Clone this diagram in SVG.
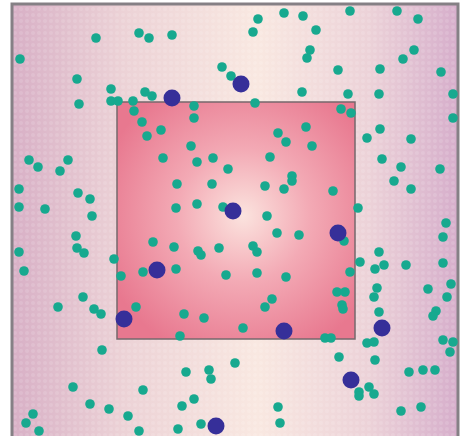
<svg xmlns="http://www.w3.org/2000/svg" width="461" height="436" viewBox="0 0 461 436">
<defs>
<linearGradient id="bg" x1="0" y1="0" x2="1" y2="0">
<stop offset="0" stop-color="#d8b0c6"/>
<stop offset="0.25" stop-color="#ecd2d6"/>
<stop offset="0.55" stop-color="#f9e8e1"/>
<stop offset="0.8" stop-color="#ecd2d8"/>
<stop offset="1" stop-color="#d6aecb"/>
</linearGradient>
<radialGradient id="sq" cx="0.53" cy="0.48" r="0.62">
<stop offset="0" stop-color="#fbe3de"/>
<stop offset="0.45" stop-color="#f3aab5"/>
<stop offset="1" stop-color="#e8788f"/>
</radialGradient>
<pattern id="grid" width="6" height="6" patternUnits="userSpaceOnUse">
<circle cx="3" cy="3" r="2" fill="#ffffff" opacity="0.12"/>
</pattern>
</defs>
<style>
.t{fill:#17a98f}
.b{fill:#362f99}
</style>
<g id="background">
<rect x="12" y="4" width="446" height="440" fill="url(#bg)"/>
<rect x="12" y="4" width="446" height="440" fill="url(#grid)"/>
<rect x="12" y="4" width="446" height="440" fill="none" stroke="#858085" stroke-width="3"/>
</g>
<g id="square">
<rect x="117" y="102" width="238" height="237" fill="url(#sq)" stroke="#76686c" stroke-width="1.5"/>
</g>
<g id="teal-dots" class="t">
<circle cx="20" cy="59" r="4.8"/><circle cx="96" cy="38" r="4.8"/><circle cx="139" cy="33" r="4.8"/><circle cx="149" cy="38" r="4.8"/>
<circle cx="77" cy="79" r="4.8"/><circle cx="79" cy="104" r="4.8"/><circle cx="111" cy="89" r="4.8"/><circle cx="111" cy="101" r="4.8"/>
<circle cx="118" cy="101" r="4.8"/><circle cx="133" cy="101" r="4.8"/><circle cx="145" cy="92" r="4.8"/><circle cx="152" cy="96" r="4.8"/>
<circle cx="134" cy="111" r="4.8"/><circle cx="142" cy="122" r="4.8"/><circle cx="147" cy="136" r="4.8"/>
<circle cx="172" cy="35" r="4.8"/><circle cx="258" cy="19" r="4.8"/><circle cx="253" cy="32" r="4.8"/><circle cx="284" cy="13" r="4.8"/>
<circle cx="303" cy="16" r="4.8"/><circle cx="310" cy="50" r="4.8"/><circle cx="307" cy="58" r="4.8"/><circle cx="222" cy="67" r="4.8"/>
<circle cx="231" cy="76" r="4.8"/><circle cx="302" cy="92" r="4.8"/><circle cx="255" cy="103" r="4.8"/><circle cx="194" cy="106" r="4.8"/>
<circle cx="194" cy="118" r="4.8"/><circle cx="161" cy="130" r="4.8"/><circle cx="191" cy="146" r="4.8"/><circle cx="278" cy="133" r="4.8"/>
<circle cx="286" cy="142" r="4.8"/><circle cx="306" cy="127" r="4.8"/>
<circle cx="350" cy="11" r="4.8"/><circle cx="397" cy="11" r="4.8"/><circle cx="418" cy="19" r="4.8"/><circle cx="316" cy="30" r="4.8"/>
<circle cx="414" cy="50" r="4.8"/><circle cx="403" cy="59" r="4.8"/><circle cx="338" cy="70" r="4.8"/><circle cx="380" cy="69" r="4.8"/>
<circle cx="441" cy="72" r="4.8"/><circle cx="348" cy="94" r="4.8"/><circle cx="379" cy="94" r="4.8"/><circle cx="453" cy="94" r="4.8"/>
<circle cx="341" cy="109" r="4.8"/><circle cx="351" cy="113" r="4.8"/><circle cx="453" cy="118" r="4.8"/><circle cx="380" cy="129" r="4.8"/>
<circle cx="367" cy="138" r="4.8"/><circle cx="411" cy="139" r="4.8"/><circle cx="312" cy="146" r="4.8"/>
<circle cx="29" cy="160" r="4.8"/><circle cx="38" cy="167" r="4.8"/><circle cx="68" cy="160" r="4.8"/><circle cx="60" cy="171" r="4.8"/>
<circle cx="19" cy="189" r="4.8"/><circle cx="78" cy="193" r="4.8"/><circle cx="90" cy="199" r="4.8"/><circle cx="19" cy="207" r="4.8"/>
<circle cx="45" cy="209" r="4.8"/><circle cx="92" cy="216" r="4.8"/><circle cx="76" cy="236" r="4.8"/><circle cx="77" cy="248" r="4.8"/>
<circle cx="84" cy="253" r="4.8"/><circle cx="19" cy="252" r="4.8"/><circle cx="24" cy="271" r="4.8"/><circle cx="114" cy="259" r="4.8"/>
<circle cx="153" cy="242" r="4.8"/><circle cx="121" cy="276" r="4.8"/><circle cx="143" cy="272" r="4.8"/>
<circle cx="163" cy="158" r="4.8"/><circle cx="197" cy="162" r="4.8"/><circle cx="213" cy="158" r="4.8"/><circle cx="228" cy="169" r="4.8"/>
<circle cx="270" cy="157" r="4.8"/><circle cx="177" cy="184" r="4.8"/><circle cx="212" cy="184" r="4.8"/><circle cx="265" cy="186" r="4.8"/>
<circle cx="284" cy="189" r="4.8"/><circle cx="292" cy="176" r="4.8"/><circle cx="292" cy="181" r="4.8"/><circle cx="176" cy="208" r="4.8"/>
<circle cx="197" cy="204" r="4.8"/><circle cx="223" cy="207" r="4.8"/><circle cx="267" cy="216" r="4.8"/><circle cx="277" cy="233" r="4.8"/>
<circle cx="299" cy="235" r="4.8"/><circle cx="174" cy="247" r="4.8"/><circle cx="198" cy="251" r="4.8"/><circle cx="201" cy="255" r="4.8"/>
<circle cx="219" cy="248" r="4.8"/><circle cx="253" cy="246" r="4.8"/><circle cx="257" cy="252" r="4.8"/><circle cx="176" cy="269" r="4.8"/>
<circle cx="226" cy="275" r="4.8"/><circle cx="257" cy="273" r="4.8"/><circle cx="286" cy="277" r="4.8"/>
<circle cx="382" cy="159" r="4.8"/><circle cx="401" cy="167" r="4.8"/><circle cx="440" cy="169" r="4.8"/><circle cx="394" cy="181" r="4.8"/>
<circle cx="411" cy="189" r="4.8"/><circle cx="333" cy="191" r="4.8"/><circle cx="358" cy="208" r="4.8"/><circle cx="344" cy="241" r="4.8"/>
<circle cx="446" cy="223" r="4.8"/><circle cx="443" cy="237" r="4.8"/><circle cx="379" cy="252" r="4.8"/><circle cx="360" cy="262" r="4.8"/>
<circle cx="384" cy="265" r="4.8"/><circle cx="375" cy="269" r="4.8"/><circle cx="406" cy="265" r="4.8"/><circle cx="443" cy="263" r="4.8"/>
<circle cx="350" cy="272" r="4.8"/><circle cx="337" cy="292" r="4.8"/><circle cx="345" cy="292" r="4.8"/><circle cx="377" cy="288" r="4.8"/>
<circle cx="374" cy="297" r="4.8"/><circle cx="428" cy="289" r="4.8"/><circle cx="451" cy="284" r="4.8"/>
<circle cx="83" cy="297" r="4.8"/><circle cx="58" cy="307" r="4.8"/><circle cx="94" cy="309" r="4.8"/><circle cx="101" cy="314" r="4.8"/>
<circle cx="136" cy="307" r="4.8"/><circle cx="102" cy="350" r="4.8"/><circle cx="73" cy="387" r="4.8"/><circle cx="143" cy="390" r="4.8"/>
<circle cx="90" cy="404" r="4.8"/><circle cx="109" cy="409" r="4.8"/><circle cx="128" cy="416" r="4.8"/><circle cx="33" cy="414" r="4.8"/>
<circle cx="26" cy="423" r="4.8"/><circle cx="39" cy="431" r="4.8"/><circle cx="139" cy="431" r="4.8"/>
<circle cx="184" cy="314" r="4.8"/><circle cx="204" cy="318" r="4.8"/><circle cx="180" cy="336" r="4.8"/><circle cx="243" cy="328" r="4.8"/>
<circle cx="265" cy="307" r="4.8"/><circle cx="272" cy="299" r="4.8"/><circle cx="235" cy="363" r="4.8"/><circle cx="186" cy="372" r="4.8"/>
<circle cx="209" cy="370" r="4.8"/><circle cx="211" cy="379" r="4.8"/><circle cx="194" cy="399" r="4.8"/><circle cx="182" cy="406" r="4.8"/>
<circle cx="201" cy="424" r="4.8"/><circle cx="178" cy="429" r="4.8"/><circle cx="278" cy="407" r="4.8"/><circle cx="280" cy="423" r="4.8"/>
<circle cx="447" cy="297" r="4.8"/><circle cx="342" cy="305" r="4.8"/><circle cx="343" cy="309" r="4.8"/><circle cx="379" cy="312" r="4.8"/>
<circle cx="436" cy="311" r="4.8"/><circle cx="433" cy="316" r="4.8"/><circle cx="325" cy="338" r="4.8"/><circle cx="331" cy="338" r="4.8"/>
<circle cx="367" cy="343" r="4.8"/><circle cx="374" cy="342" r="4.8"/><circle cx="443" cy="340" r="4.8"/><circle cx="453" cy="342" r="4.8"/>
<circle cx="450" cy="352" r="4.8"/><circle cx="339" cy="357" r="4.8"/><circle cx="375" cy="360" r="4.8"/><circle cx="409" cy="372" r="4.8"/>
<circle cx="423" cy="370" r="4.8"/><circle cx="435" cy="370" r="4.8"/><circle cx="369" cy="387" r="4.8"/><circle cx="359" cy="392" r="4.8"/>
<circle cx="359" cy="396" r="4.8"/><circle cx="374" cy="394" r="4.8"/><circle cx="401" cy="411" r="4.8"/><circle cx="421" cy="407" r="4.8"/>
</g>
<g id="blue-dots" class="b">
<circle cx="241" cy="84" r="8.5"/><circle cx="172" cy="98" r="8.5"/><circle cx="233" cy="211" r="8.5"/><circle cx="338" cy="233" r="8.5"/>
<circle cx="157" cy="270" r="8.5"/><circle cx="124" cy="319" r="8.5"/><circle cx="284" cy="331" r="8.5"/><circle cx="382" cy="328" r="8.5"/>
<circle cx="351" cy="380" r="8.5"/><circle cx="216" cy="426" r="8.5"/>
</g>
</svg>
